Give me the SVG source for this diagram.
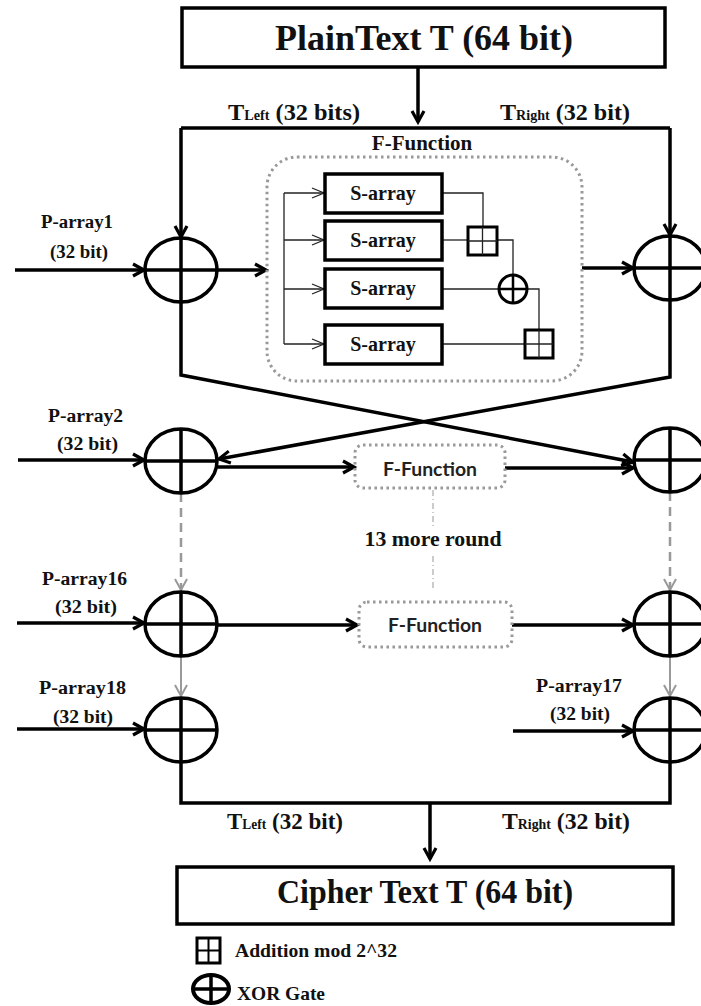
<svg xmlns="http://www.w3.org/2000/svg" width="701" height="1006" viewBox="0 0 701 1006">
<style>
.blk{stroke:#000;stroke-width:3.5;fill:none}
.thin{stroke:#222;stroke-width:1.3;fill:none}
.box{fill:#fff;stroke:#000;stroke-width:3.5}
.add{fill:#fff;stroke:#000;stroke-width:3}
.x{fill:#fff;stroke:#000;stroke-width:3.5}
.dot{fill:none;stroke:#999;stroke-width:3;stroke-dasharray:2.5 3.5}
.gd{stroke:#999;stroke-width:2.5;fill:none;stroke-dasharray:9 6}
.gs{stroke:#999;stroke-width:2;fill:none}
.dd{stroke:#aaa;stroke-width:1.2;fill:none;stroke-dasharray:6 3 1 3}
.ser{font-family:"Liberation Serif","Times New Roman",serif;font-weight:bold;fill:#111}
.sans{font-family:Lato,"Open Sans",sans-serif;font-weight:bold;fill:#222}
</style>
<defs>
<marker id="ah" markerUnits="userSpaceOnUse" markerWidth="16" markerHeight="16" refX="12" refY="7" orient="auto" overflow="visible"><path d="M1,1 L12,7 L1,13" fill="none" stroke="#000" stroke-width="3.2"/></marker>
<marker id="aht" markerUnits="userSpaceOnUse" markerWidth="14" markerHeight="12" refX="12" refY="5" orient="auto" overflow="visible"><path d="M0,0 L12,5 L0,10" fill="none" stroke="#222" stroke-width="1.3"/></marker>
<marker id="ahg" markerUnits="userSpaceOnUse" markerWidth="14" markerHeight="14" refX="11" refY="6" orient="auto" overflow="visible"><path d="M0,0 L11,6 L0,12" fill="none" stroke="#999" stroke-width="2"/></marker>
</defs>

<g id="connectors">
<line class="blk" x1="418" y1="67" x2="418" y2="122" marker-end="url(#ah)"/>
<path class="blk" d="M181,128 L670,128"/>
<path class="blk" d="M181,128 L181,237" marker-end="url(#ah)"/>
<path class="blk" d="M670,128 L670,235" marker-end="url(#ah)"/>
<path class="blk" d="M15,270 L144,270" marker-end="url(#ah)"/>
<path class="blk" d="M217,270 L266,270" marker-end="url(#ah)"/>
<path class="blk" d="M582,268 L633,268" marker-end="url(#ah)"/>
<path class="blk" d="M181,302 L181,375 L633,462" marker-end="url(#ah)"/>
<path class="blk" d="M670,300 L670,377 L219,459" marker-end="url(#ah)"/>
<path class="blk" d="M18,460 L144,460" marker-end="url(#ah)"/>
<path class="blk" d="M218,467 L354,467" marker-end="url(#ah)"/>
<path class="blk" d="M505,468 L633,468" marker-end="url(#ah)"/>
<path class="gd" d="M181,493 L181,590" marker-end="url(#ahg)"/>
<path class="gd" d="M670,492 L670,590" marker-end="url(#ahg)"/>
<path class="dd" d="M433,490 L433,527 M433,556 L433,590"/>
<path class="blk" d="M17,623 L144,623" marker-end="url(#ah)"/>
<path class="blk" d="M218,625 L357,625" marker-end="url(#ah)"/>
<path class="blk" d="M512,625 L633,625" marker-end="url(#ah)"/>
<path class="gs" d="M181,656 L181,696" marker-end="url(#ahg)"/>
<path class="gs" d="M670,656 L670,696" marker-end="url(#ahg)"/>
<path class="blk" d="M17,729 L144,729" marker-end="url(#ah)"/>
<path class="blk" d="M513,731 L633,731" marker-end="url(#ah)"/>
<path class="blk" d="M181,762 L181,803 L670,803 L670,762"/>
<path class="blk" d="M430,803 L430,859" marker-end="url(#ah)"/>
<!-- inside F-function -->
<path class="thin" d="M284,193 L284,344"/>
<path class="thin" d="M284,193 L324,193" marker-end="url(#aht)"/>
<path class="thin" d="M284,240 L324,240" marker-end="url(#aht)"/>
<path class="thin" d="M284,289 L324,289" marker-end="url(#aht)"/>
<path class="thin" d="M284,344 L324,344" marker-end="url(#aht)"/>
<path class="thin" d="M442,193 L483,193 L483,227"/>
<path class="thin" d="M442,240 L468,240"/>
<path class="thin" d="M497,240 L513,240 L513,275"/>
<path class="thin" d="M442,289 L499,289"/>
<path class="thin" d="M527,289 L539,289 L539,330"/>
<path class="thin" d="M442,344 L525,344"/>
</g>

<g id="plaintext">
<rect class="box" x="182" y="8" width="483" height="59"/>
<text class="ser" x="424" y="50" font-size="35" text-anchor="middle" textLength="298" lengthAdjust="spacingAndGlyphs">PlainText T (64 bit)</text>
</g>
<g id="labels-top">
<text class="ser" x="228" y="120" textLength="132" lengthAdjust="spacingAndGlyphs"><tspan font-size="24">T</tspan><tspan font-size="14">Left</tspan><tspan font-size="24"> (32 bits)</tspan></text>
<text class="ser" x="500" y="120" textLength="130" lengthAdjust="spacingAndGlyphs"><tspan font-size="24">T</tspan><tspan font-size="14">Right</tspan><tspan font-size="24"> (32 bit)</tspan></text>
</g>

<g id="ffunction1">
<text class="ser" x="422" y="150" font-size="21" text-anchor="middle">F-Function</text>
<rect class="dot" x="267" y="157" width="315" height="224" rx="30"/>
</g>
<g id="sarray1"><rect class="box" x="325" y="174" width="117" height="39"/><text class="ser" x="383" y="200" font-size="20" text-anchor="middle">S-array</text></g>
<g id="sarray2"><rect class="box" x="325" y="221" width="117" height="39"/><text class="ser" x="383" y="247" font-size="20" text-anchor="middle">S-array</text></g>
<g id="sarray3"><rect class="box" x="325" y="269" width="117" height="39"/><text class="ser" x="383" y="295" font-size="20" text-anchor="middle">S-array</text></g>
<g id="sarray4"><rect class="box" x="325" y="325" width="117" height="39"/><text class="ser" x="383" y="351" font-size="20" text-anchor="middle">S-array</text></g>
<g id="add1"><rect class="add" x="468" y="227" width="29" height="28"/><path class="thin" stroke-width="2" d="M482.5,227 V255 M468,241 H497"/></g>
<g id="xorsmall"><circle class="add" cx="513" cy="289" r="14"/><path stroke="#000" stroke-width="2.5" d="M513,275 V303 M499,289 H527"/></g>
<g id="add2"><rect class="add" x="525" y="330" width="28" height="28"/><path class="thin" stroke-width="2" d="M539,330 V358 M525,344 H553"/></g>

<g id="xor-l1"><ellipse class="x" cx="181" cy="270" rx="36" ry="32"/><path class="blk" d="M181,238 V302 M145,270 H217"/></g>
<g id="xor-r1"><ellipse class="x" cx="670" cy="268" rx="36" ry="32"/><path class="blk" d="M670,236 V300 M634,268 H706"/></g>
<g id="xor-l2"><ellipse class="x" cx="181" cy="461" rx="36" ry="32"/><path class="blk" d="M181,429 V493 M145,461 H217"/></g>
<g id="xor-r2"><ellipse class="x" cx="670" cy="460" rx="36" ry="32"/><path class="blk" d="M670,428 V492 M634,460 H706"/></g>
<g id="xor-l16"><ellipse class="x" cx="181" cy="624" rx="36" ry="32"/><path class="blk" d="M181,592 V656 M145,624 H217"/></g>
<g id="xor-r16"><ellipse class="x" cx="670" cy="624" rx="36" ry="32"/><path class="blk" d="M670,592 V656 M634,624 H706"/></g>
<g id="xor-l18"><ellipse class="x" cx="181" cy="730" rx="36" ry="32"/><path class="blk" d="M181,698 V762 M145,730 H217"/></g>
<g id="xor-r18"><ellipse class="x" cx="670" cy="730" rx="36" ry="32"/><path class="blk" d="M670,698 V762 M634,730 H706"/></g>

<g id="ffunction2"><rect class="dot" x="355" y="445" width="150" height="43" rx="8"/><text class="sans" x="430" y="476" font-size="18" text-anchor="middle" textLength="94" lengthAdjust="spacingAndGlyphs">F-Function</text></g>
<g id="rounds"><text class="ser" x="433" y="546" font-size="22" text-anchor="middle" textLength="137" lengthAdjust="spacingAndGlyphs">13 more round</text></g>
<g id="ffunction3"><rect class="dot" x="359" y="602" width="153" height="45" rx="8"/><text class="sans" x="435" y="632" font-size="18" text-anchor="middle" textLength="94" lengthAdjust="spacingAndGlyphs">F-Function</text></g>

<g id="plabels">
<text class="ser" x="41" y="228" font-size="18" textLength="72" lengthAdjust="spacingAndGlyphs">P-array1</text>
<text class="ser" x="50" y="258" font-size="18" textLength="58" lengthAdjust="spacingAndGlyphs">(32 bit)</text>
<text class="ser" x="48" y="422" font-size="18" textLength="75" lengthAdjust="spacingAndGlyphs">P-array2</text>
<text class="ser" x="57" y="450" font-size="18" textLength="61" lengthAdjust="spacingAndGlyphs">(32 bit)</text>
<text class="ser" x="42" y="585" font-size="18" textLength="85" lengthAdjust="spacingAndGlyphs">P-array16</text>
<text class="ser" x="55" y="613" font-size="18" textLength="62" lengthAdjust="spacingAndGlyphs">(32 bit)</text>
<text class="ser" x="39" y="694" font-size="18" textLength="87" lengthAdjust="spacingAndGlyphs">P-array18</text>
<text class="ser" x="53" y="723" font-size="18" textLength="60" lengthAdjust="spacingAndGlyphs">(32 bit)</text>
<text class="ser" x="536" y="692" font-size="18" textLength="86" lengthAdjust="spacingAndGlyphs">P-array17</text>
<text class="ser" x="550" y="720" font-size="18" textLength="60" lengthAdjust="spacingAndGlyphs">(32 bit)</text>
</g>

<g id="labels-bottom">
<text class="ser" x="227" y="829" textLength="116" lengthAdjust="spacingAndGlyphs"><tspan font-size="24">T</tspan><tspan font-size="14">Left</tspan><tspan font-size="24"> (32 bit)</tspan></text>
<text class="ser" x="502" y="829" textLength="128" lengthAdjust="spacingAndGlyphs"><tspan font-size="24">T</tspan><tspan font-size="14">Right</tspan><tspan font-size="24"> (32 bit)</tspan></text>
</g>

<g id="ciphertext">
<rect class="box" x="177" y="867" width="496" height="57"/>
<text class="ser" x="425" y="903" font-size="34" text-anchor="middle" textLength="296" lengthAdjust="spacingAndGlyphs">Cipher Text T (64 bit)</text>
</g>

<g id="legend">
<rect class="add" x="197" y="938" width="23" height="25"/>
<path stroke="#000" stroke-width="2" d="M208.5,938 V963 M197,950.5 H220"/>
<text class="ser" x="235" y="957" font-size="18" textLength="162" lengthAdjust="spacingAndGlyphs">Addition mod 2^32</text>
<ellipse fill="#fff" stroke="#000" stroke-width="4" cx="211" cy="989" rx="18" ry="14"/>
<path stroke="#000" stroke-width="3.5" d="M211,975 V1003 M193,989 H229"/>
<text class="ser" x="237" y="1000" font-size="19" textLength="88" lengthAdjust="spacingAndGlyphs">XOR Gate</text>
</g>
</svg>
